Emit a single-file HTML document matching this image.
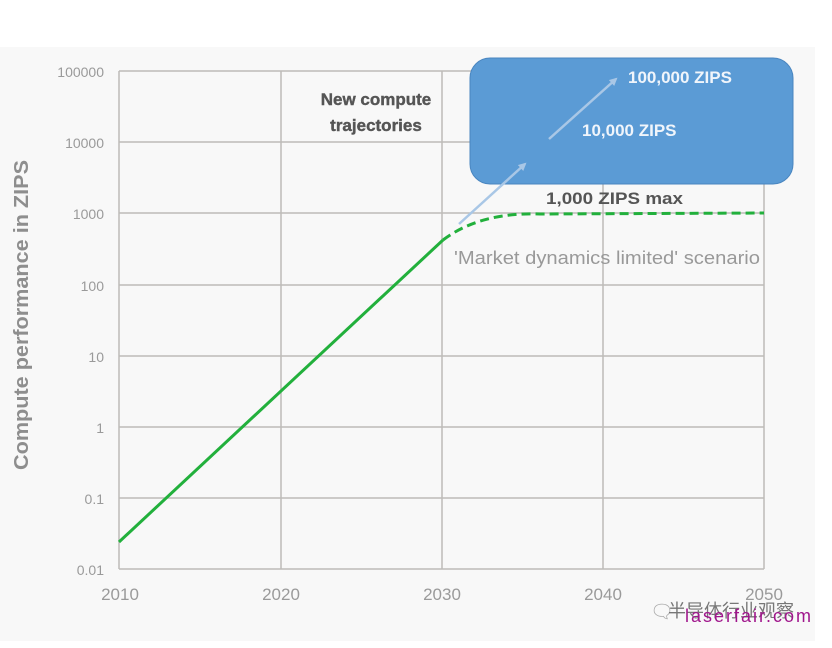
<!DOCTYPE html>
<html><head><meta charset="utf-8"><style>
html,body{margin:0;padding:0;background:#fff;}
svg{display:block;font-family:"Liberation Sans","Noto Sans CJK SC",sans-serif;}
</style></head><body>
<svg width="832" height="648" viewBox="0 0 832 648">
<defs>
<marker id="ah" markerWidth="8" markerHeight="8" refX="6" refY="4" orient="auto" markerUnits="userSpaceOnUse">
<path d="M0,0 L8,4 L0,8 Z" fill="#a9c7e6"/>
</marker>
</defs>
<rect x="0" y="47" width="815" height="594" fill="#f8f8f8"/>
<g stroke="#bdbbb8" stroke-width="1.5" fill="none">
<line x1="119" y1="71" x2="764" y2="71"/>
<line x1="119" y1="142" x2="764" y2="142"/>
<line x1="119" y1="213" x2="764" y2="213"/>
<line x1="119" y1="285" x2="764" y2="285"/>
<line x1="119" y1="356" x2="764" y2="356"/>
<line x1="119" y1="427" x2="764" y2="427"/>
<line x1="119" y1="498" x2="764" y2="498"/>
<line x1="119" y1="569" x2="764" y2="569"/>
<line x1="119" y1="71" x2="119" y2="569"/>
<line x1="281" y1="71" x2="281" y2="569"/>
<line x1="442" y1="71" x2="442" y2="569"/>
<line x1="603" y1="71" x2="603" y2="569"/>
<line x1="764" y1="71" x2="764" y2="569"/>
</g>
<g fill="#9a9a9a" font-size="14" text-anchor="end">
<text x="104" y="77">100000</text>
<text x="104" y="148">10000</text>
<text x="104" y="219">1000</text>
<text x="104" y="291">100</text>
<text x="104" y="362">10</text>
<text x="104" y="433">1</text>
<text x="104" y="504">0.1</text>
<text x="104" y="575">0.01</text>
</g>
<g fill="#9a9a9a" font-size="17" text-anchor="middle">
<text x="120" y="600">2010</text>
<text x="281" y="600">2020</text>
<text x="442" y="600">2030</text>
<text x="603" y="600">2040</text>
<text x="764" y="600">2050</text>
</g>
<text transform="translate(28,470) rotate(-90)" fill="#8e8e8e" font-size="20" font-weight="bold" textLength="310" lengthAdjust="spacingAndGlyphs">Compute performance in ZIPS</text>
<text x="376" y="105" text-anchor="middle" fill="#555" font-size="17" font-weight="bold" stroke="#555" stroke-width="0.4">New compute</text>
<text x="376" y="131" text-anchor="middle" fill="#555" font-size="17" font-weight="bold" stroke="#555" stroke-width="0.4">trajectories</text>
<line x1="119" y1="542" x2="443" y2="240" stroke="#22b03c" stroke-width="3"/>
<path d="M443,240 Q480,212 540,214 L764,213" stroke="#22b03c" stroke-width="3" fill="none" stroke-dasharray="9,5"/>
<rect x="470" y="58" width="323" height="126" rx="20" fill="#5b9bd5" stroke="#4a86c0" stroke-width="1"/>
<line x1="459" y1="224" x2="525" y2="164" stroke="#a9c7e6" stroke-width="2.5" marker-end="url(#ah)"/>
<line x1="549" y1="139" x2="616" y2="79" stroke="#a9c7e6" stroke-width="2.5" marker-end="url(#ah)"/>
<text x="628" y="83" fill="#f0f5fb" font-size="17" font-weight="bold">100,000 ZIPS</text>
<text x="582" y="136" fill="#f0f5fb" font-size="17" font-weight="bold">10,000 ZIPS</text>
<text x="546" y="204" fill="#555" font-size="17" font-weight="bold" textLength="137" lengthAdjust="spacingAndGlyphs">1,000 ZIPS max</text>
<text x="454" y="264" fill="#999" font-size="18" textLength="306" lengthAdjust="spacingAndGlyphs">'Market dynamics limited' scenario</text>
<text x="650" y="618" fill="#aaa" font-size="19">&#x1F5E8;</text>
<text x="668" y="617" fill="#777" font-size="18">半导体行业观察</text>
<text x="685" y="622" fill="#a0168c" font-size="18" letter-spacing="2">laserfair.com</text>
</svg>
</body></html>
